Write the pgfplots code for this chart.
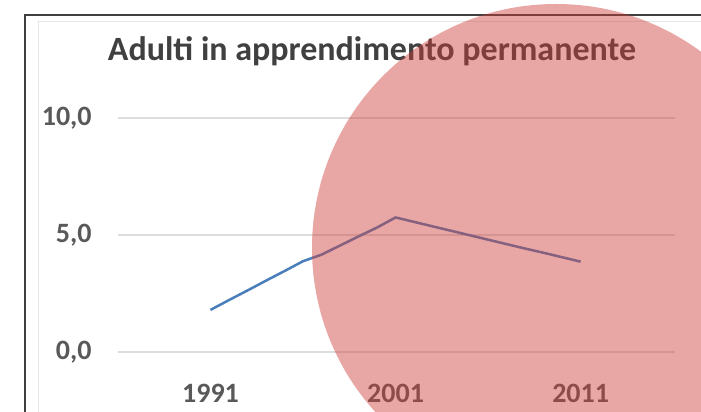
\documentclass[border=0pt]{standalone}
\usepackage{pgfplots}
\pgfplotsset{compat=1.18}
\usepackage{fontspec}
\setmainfont{Carlito}
\definecolor{linecol}{HTML}{4A7EBB}
\definecolor{gridcol}{HTML}{DDDDDD}
\definecolor{labcol}{HTML}{595959}
\definecolor{titcol}{HTML}{404040}
\definecolor{circred}{RGB}{205,60,55}
\begin{document}
\begin{tikzpicture}
% 1 px = 0.5pt, picture 701 x 412 px
\useasboundingbox (0,0) rectangle (350.5pt,206pt);
\clip (0,0) rectangle (350.5pt,206pt);
\fill[white] (0,0) rectangle (350.5pt,206pt);
% faint inner frame
\draw[line width=0.5pt, black!10] (19pt,0) -- (19pt,195pt) -- (350.5pt,195pt);
% outer frame
\draw[line width=1pt, black!75] (12.5pt,0) -- (12.5pt,198.5pt) -- (351pt,198.5pt);
\begin{axis}[
  at={(59pt,30pt)}, anchor=south west,
  scale only axis, width=278.5pt, height=117pt,
  xmin=1986, xmax=2016.1, ymin=0, ymax=10,
  axis line style={draw=none},
  ytick={0,5,10}, xtick={1991,2001,2011},
  xticklabels={1991,2001,2011},
  ymajorgrids, major grid style={gridcol, line width=1pt},
  major tick length=0pt, tick style={draw=none},
  /pgf/number format/.cd, assume math mode=true, use comma, fixed, fixed zerofill, precision=1,
  /pgfplots/.cd,
  yticklabel style={anchor=east, inner sep=0pt, xshift=-13pt, font=\bfseries\fontsize{14pt}{16pt}\selectfont, text=labcol},
  xticklabel style={anchor=north, inner sep=0pt, yshift=-16pt, font=\bfseries\fontsize{14pt}{16pt}\selectfont, text=labcol},
  title={Adulti in apprendimento permanente},
  title style={at={(axis description cs:0.456,1)}, anchor=base, yshift=22.5pt, inner sep=0pt,
    font=\bfseries\fontsize{17pt}{19pt}\selectfont, text=titcol},
  clip=false,
]
\addplot[linecol, line width=1.25pt, line join=round] coordinates {
(1991,1.80) (1992,2.22) (1993,2.63) (1994,3.05) (1995,3.46) (1996,3.88)
(1997,4.16) (1998,4.55) (1999,4.94) (2000,5.32) (2001,5.75) (2002,5.56)
(2003,5.37) (2004,5.18) (2005,4.99) (2006,4.80) (2007,4.61) (2008,4.42)
(2009,4.24) (2010,4.05) (2011,3.86)
};
\end{axis}
% translucent red disc overlay
\fill[circred, opacity=0.45] (278pt,82pt) circle (122pt);
\end{tikzpicture}
\end{document}
